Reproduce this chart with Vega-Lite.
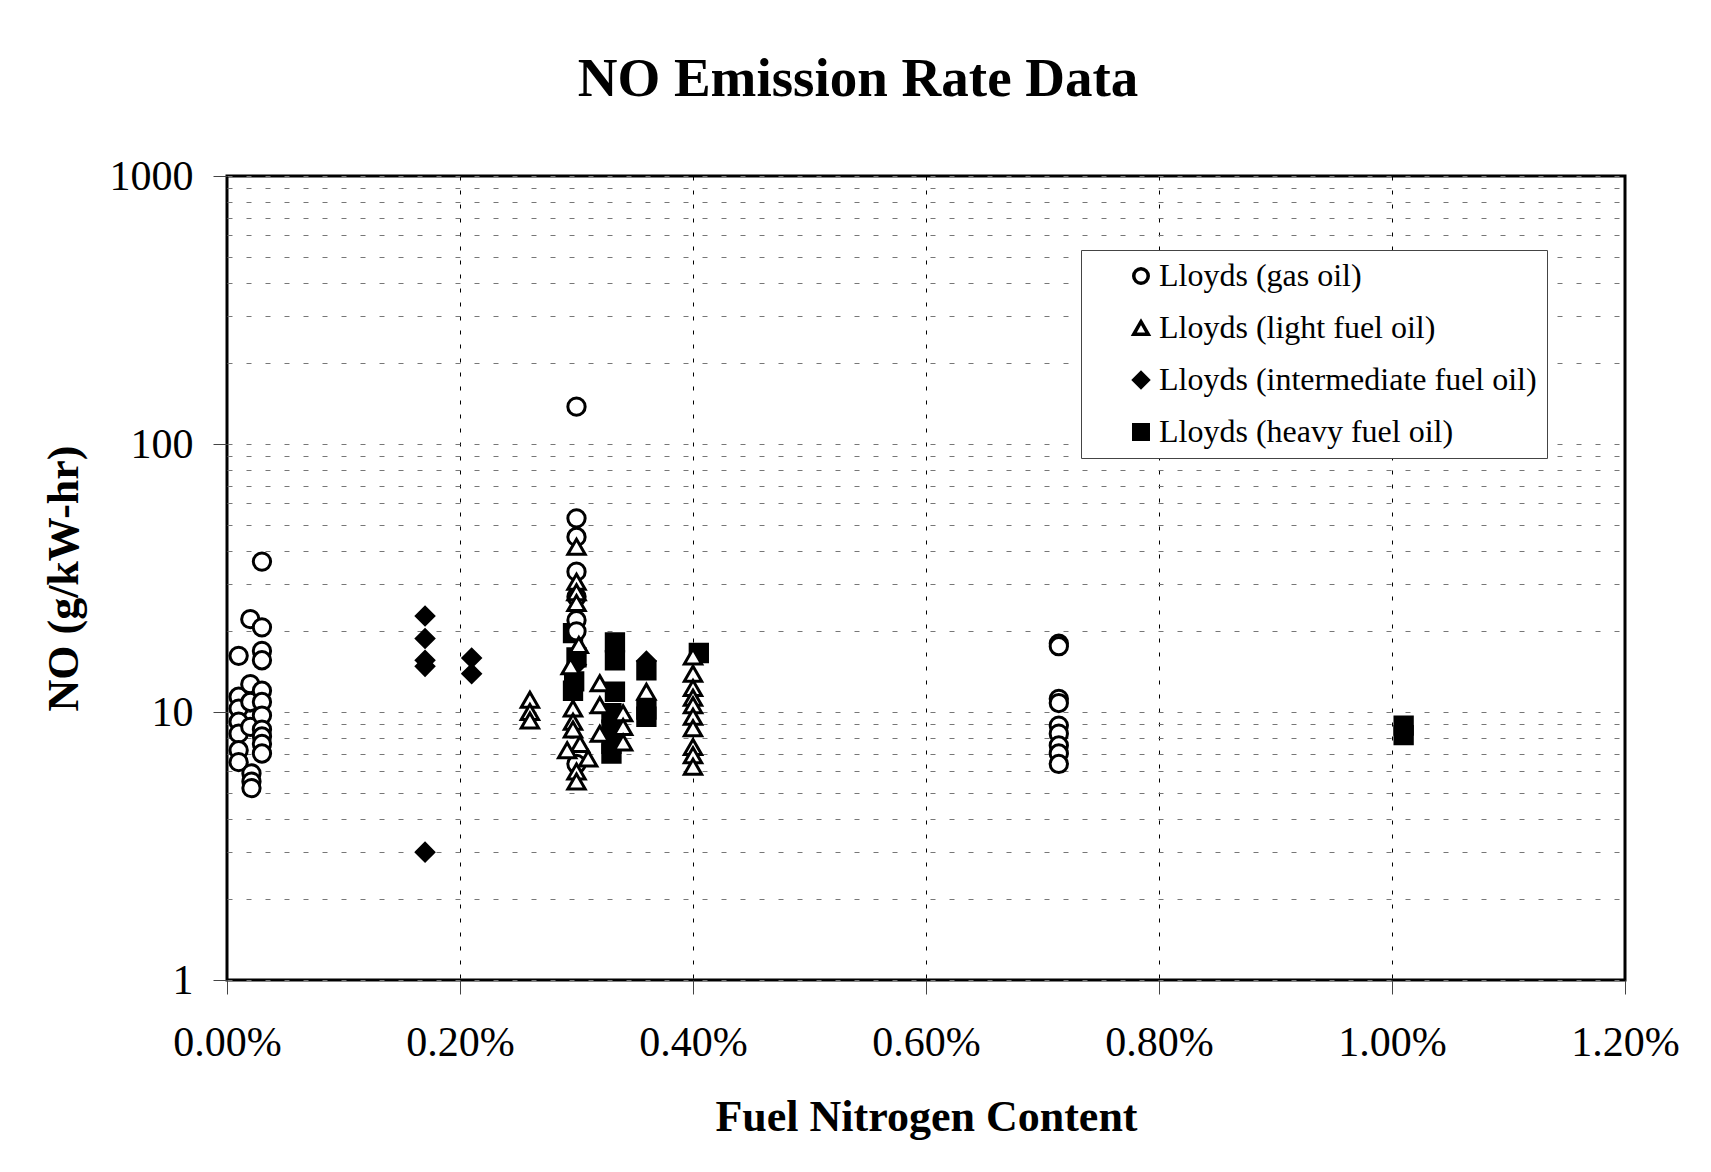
{
  "$schema": "https://vega.github.io/schema/vega-lite/v6.json",
  "width": 1398,
  "height": 804,
  "autosize": {"type": "none"},
  "padding": {"left": 227, "top": 176, "right": 86, "bottom": 192},
  "background": "white",
  "config": {"view": {"stroke": "#000", "strokeWidth": 3}, "font": "Liberation Serif"},
  "title": {"text": "NO Emission Rate Data", "font": "Liberation Serif", "fontSize": 55, "fontWeight": "bold", "color": "#000", "anchor": "middle", "frame": "group", "dx": -68, "baseline": "alphabetic", "offset": 4},
  "data": {"values": [
    {"series": "Lloyds (intermediate fuel oil)", "n": 0.0017, "no": 22.8},
    {"series": "Lloyds (intermediate fuel oil)", "n": 0.0017, "no": 18.8},
    {"series": "Lloyds (intermediate fuel oil)", "n": 0.0017, "no": 15.6},
    {"series": "Lloyds (intermediate fuel oil)", "n": 0.0017, "no": 14.8},
    {"series": "Lloyds (intermediate fuel oil)", "n": 0.0017, "no": 3.0},
    {"series": "Lloyds (intermediate fuel oil)", "n": 0.0021, "no": 15.9},
    {"series": "Lloyds (intermediate fuel oil)", "n": 0.0021, "no": 13.9},
    {"series": "Lloyds (intermediate fuel oil)", "n": 0.003, "no": 15.0},
    {"series": "Lloyds (intermediate fuel oil)", "n": 0.0036, "no": 15.5},
    {"series": "Lloyds (heavy fuel oil)", "n": 0.00297, "no": 19.7},
    {"series": "Lloyds (heavy fuel oil)", "n": 0.003, "no": 16.0},
    {"series": "Lloyds (heavy fuel oil)", "n": 0.00298, "no": 13.0},
    {"series": "Lloyds (heavy fuel oil)", "n": 0.00297, "no": 12.0},
    {"series": "Lloyds (heavy fuel oil)", "n": 0.00333, "no": 18.2},
    {"series": "Lloyds (heavy fuel oil)", "n": 0.00333, "no": 15.6},
    {"series": "Lloyds (heavy fuel oil)", "n": 0.00333, "no": 11.9},
    {"series": "Lloyds (heavy fuel oil)", "n": 0.0033, "no": 9.9},
    {"series": "Lloyds (heavy fuel oil)", "n": 0.0033, "no": 8.6},
    {"series": "Lloyds (heavy fuel oil)", "n": 0.0033, "no": 7.6},
    {"series": "Lloyds (heavy fuel oil)", "n": 0.0033, "no": 7.0},
    {"series": "Lloyds (heavy fuel oil)", "n": 0.0036, "no": 14.3},
    {"series": "Lloyds (heavy fuel oil)", "n": 0.0036, "no": 10.2},
    {"series": "Lloyds (heavy fuel oil)", "n": 0.0036, "no": 9.6},
    {"series": "Lloyds (heavy fuel oil)", "n": 0.00405, "no": 16.6},
    {"series": "Lloyds (heavy fuel oil)", "n": 0.0101, "no": 8.9},
    {"series": "Lloyds (heavy fuel oil)", "n": 0.0101, "no": 8.2},
    {"series": "Lloyds (gas oil)", "n": 0.0001, "no": 16.2},
    {"series": "Lloyds (gas oil)", "n": 0.0001, "no": 11.4},
    {"series": "Lloyds (gas oil)", "n": 0.0001, "no": 10.3},
    {"series": "Lloyds (gas oil)", "n": 0.0001, "no": 9.2},
    {"series": "Lloyds (gas oil)", "n": 0.0001, "no": 8.3},
    {"series": "Lloyds (gas oil)", "n": 0.0001, "no": 7.2},
    {"series": "Lloyds (gas oil)", "n": 0.0001, "no": 6.5},
    {"series": "Lloyds (gas oil)", "n": 0.0002, "no": 22.2},
    {"series": "Lloyds (gas oil)", "n": 0.0002, "no": 12.7},
    {"series": "Lloyds (gas oil)", "n": 0.0002, "no": 10.9},
    {"series": "Lloyds (gas oil)", "n": 0.0002, "no": 8.8},
    {"series": "Lloyds (gas oil)", "n": 0.00021, "no": 5.9},
    {"series": "Lloyds (gas oil)", "n": 0.00021, "no": 5.5},
    {"series": "Lloyds (gas oil)", "n": 0.00021, "no": 5.2},
    {"series": "Lloyds (gas oil)", "n": 0.0003, "no": 36.4},
    {"series": "Lloyds (gas oil)", "n": 0.0003, "no": 20.7},
    {"series": "Lloyds (gas oil)", "n": 0.0003, "no": 16.9},
    {"series": "Lloyds (gas oil)", "n": 0.0003, "no": 15.6},
    {"series": "Lloyds (gas oil)", "n": 0.0003, "no": 12.0},
    {"series": "Lloyds (gas oil)", "n": 0.0003, "no": 10.9},
    {"series": "Lloyds (gas oil)", "n": 0.0003, "no": 9.7},
    {"series": "Lloyds (gas oil)", "n": 0.0003, "no": 8.6},
    {"series": "Lloyds (gas oil)", "n": 0.0003, "no": 8.1},
    {"series": "Lloyds (gas oil)", "n": 0.0003, "no": 7.6},
    {"series": "Lloyds (gas oil)", "n": 0.0003, "no": 7.0},
    {"series": "Lloyds (gas oil)", "n": 0.003, "no": 137.8},
    {"series": "Lloyds (gas oil)", "n": 0.003, "no": 52.8},
    {"series": "Lloyds (gas oil)", "n": 0.003, "no": 45.0},
    {"series": "Lloyds (gas oil)", "n": 0.003, "no": 33.4},
    {"series": "Lloyds (gas oil)", "n": 0.003, "no": 26.9},
    {"series": "Lloyds (gas oil)", "n": 0.003, "no": 22.0},
    {"series": "Lloyds (gas oil)", "n": 0.003, "no": 20.0},
    {"series": "Lloyds (gas oil)", "n": 0.003, "no": 6.4},
    {"series": "Lloyds (gas oil)", "n": 0.00714, "no": 18.0},
    {"series": "Lloyds (gas oil)", "n": 0.00714, "no": 17.6},
    {"series": "Lloyds (gas oil)", "n": 0.00714, "no": 11.2},
    {"series": "Lloyds (gas oil)", "n": 0.00714, "no": 10.8},
    {"series": "Lloyds (gas oil)", "n": 0.00714, "no": 8.9},
    {"series": "Lloyds (gas oil)", "n": 0.00714, "no": 8.3},
    {"series": "Lloyds (gas oil)", "n": 0.00714, "no": 7.5},
    {"series": "Lloyds (gas oil)", "n": 0.00714, "no": 7.0},
    {"series": "Lloyds (gas oil)", "n": 0.00714, "no": 6.4},
    {"series": "Lloyds (light fuel oil)", "n": 0.0026, "no": 11.1},
    {"series": "Lloyds (light fuel oil)", "n": 0.0026, "no": 10.0},
    {"series": "Lloyds (light fuel oil)", "n": 0.0026, "no": 9.3},
    {"series": "Lloyds (light fuel oil)", "n": 0.003, "no": 41.4},
    {"series": "Lloyds (light fuel oil)", "n": 0.003, "no": 30.6},
    {"series": "Lloyds (light fuel oil)", "n": 0.003, "no": 28.0},
    {"series": "Lloyds (light fuel oil)", "n": 0.003, "no": 25.5},
    {"series": "Lloyds (light fuel oil)", "n": 0.00302, "no": 17.8},
    {"series": "Lloyds (light fuel oil)", "n": 0.00295, "no": 14.8},
    {"series": "Lloyds (light fuel oil)", "n": 0.00297, "no": 10.3},
    {"series": "Lloyds (light fuel oil)", "n": 0.00297, "no": 9.2},
    {"series": "Lloyds (light fuel oil)", "n": 0.00297, "no": 8.6},
    {"series": "Lloyds (light fuel oil)", "n": 0.00303, "no": 7.6},
    {"series": "Lloyds (light fuel oil)", "n": 0.00292, "no": 7.2},
    {"series": "Lloyds (light fuel oil)", "n": 0.003, "no": 6.0},
    {"series": "Lloyds (light fuel oil)", "n": 0.003, "no": 5.5},
    {"series": "Lloyds (light fuel oil)", "n": 0.0031, "no": 6.7},
    {"series": "Lloyds (light fuel oil)", "n": 0.0032, "no": 12.8},
    {"series": "Lloyds (light fuel oil)", "n": 0.0032, "no": 10.6},
    {"series": "Lloyds (light fuel oil)", "n": 0.0032, "no": 8.3},
    {"series": "Lloyds (light fuel oil)", "n": 0.0034, "no": 9.9},
    {"series": "Lloyds (light fuel oil)", "n": 0.0034, "no": 8.8},
    {"series": "Lloyds (light fuel oil)", "n": 0.0034, "no": 7.7},
    {"series": "Lloyds (light fuel oil)", "n": 0.0036, "no": 11.9},
    {"series": "Lloyds (light fuel oil)", "n": 0.004, "no": 16.1},
    {"series": "Lloyds (light fuel oil)", "n": 0.004, "no": 13.9},
    {"series": "Lloyds (light fuel oil)", "n": 0.004, "no": 12.3},
    {"series": "Lloyds (light fuel oil)", "n": 0.004, "no": 11.3},
    {"series": "Lloyds (light fuel oil)", "n": 0.004, "no": 10.6},
    {"series": "Lloyds (light fuel oil)", "n": 0.004, "no": 9.6},
    {"series": "Lloyds (light fuel oil)", "n": 0.004, "no": 8.7},
    {"series": "Lloyds (light fuel oil)", "n": 0.004, "no": 7.4},
    {"series": "Lloyds (light fuel oil)", "n": 0.004, "no": 6.9},
    {"series": "Lloyds (light fuel oil)", "n": 0.004, "no": 6.25}
  ]},
  "mark": {"type": "point", "filled": true, "strokeWidth": 3, "size": 300, "opacity": 1},
  "encoding": {
    "x": {
      "field": "n", "type": "quantitative",
      "scale": {"domain": [0, 0.012], "nice": false, "zero": false},
      "axis": {
        "values": [0, 0.002, 0.004, 0.006, 0.008, 0.01, 0.012],
        "format": ".2%",
        "grid": true, "gridDash": [4, 10], "gridColor": "#000", "gridWidth": 1, "gridOpacity": 1,
        "domain": false,
        "ticks": true, "tickSize": 14, "tickColor": "#444", "tickWidth": 1,
        "labelFont": "Liberation Serif", "labelFontSize": 42, "labelColor": "#000", "labelPadding": 28,
        "labelFlush": false, "labelOverlap": false,
        "title": "Fuel Nitrogen Content", "titleFont": "Liberation Serif", "titleFontSize": 44, "titleFontWeight": "bold", "titleColor": "#000",
        "titleBaseline": "alphabetic", "titleY": 150
      }
    },
    "y": {
      "field": "no", "type": "quantitative",
      "scale": {"type": "log", "domain": [1, 1000], "nice": false},
      "axis": {
        "values": [1, 2, 3, 4, 5, 6, 7, 8, 9, 10, 20, 30, 40, 50, 60, 70, 80, 90, 100, 200, 300, 400, 500, 600, 700, 800, 900, 1000],
        "format": "d",
        "labelExpr": "datum.value == 1 || datum.value == 10 || datum.value == 100 || datum.value == 1000 ? datum.label : ''",
        "grid": true, "gridDash": [5, 14], "gridColor": "#777", "gridWidth": 1, "gridOpacity": 1,
        "domain": false,
        "ticks": true, "tickSize": 14, "tickColor": "#444", "tickWidth": 1,
        "tickOpacity": {"condition": {"test": "datum.value == 1 || datum.value == 10 || datum.value == 100 || datum.value == 1000", "value": 1}, "value": 0},
        "labelFont": "Liberation Serif", "labelFontSize": 42, "labelColor": "#000", "labelPadding": 20,
        "labelFlush": false, "labelOverlap": false,
        "title": "NO (g/kW-hr)", "titleFont": "Liberation Serif", "titleFontSize": 44, "titleFontWeight": "bold", "titleColor": "#000",
        "titleAngle": 270, "titleBaseline": "alphabetic", "titleAlign": "center", "titleX": -150, "titleY": 402
      }
    },
    "shape": {
      "field": "series", "type": "nominal",
      "scale": {"domain": ["Lloyds (gas oil)", "Lloyds (light fuel oil)", "Lloyds (intermediate fuel oil)", "Lloyds (heavy fuel oil)"], "range": ["circle", "triangle-up", "diamond", "square"]},
      "legend": {"title": null, "orient": "none", "legendX": 854, "legendY": 74, "padding": 10, "strokeColor": "#444", "fillColor": "#fff", "labelFont": "Liberation Serif", "labelFontSize": 32, "labelColor": "#000", "rowPadding": 20, "symbolSize": 210, "symbolStrokeWidth": 3.5, "symbolOffset": 34, "labelOffset": 2, "labelLimit": 600, "encode": {"symbols": {"update": {"strokeWidth": {"value": 3.5}}}}}
    },
    "fill": {
      "field": "series", "type": "nominal",
      "scale": {"domain": ["Lloyds (gas oil)", "Lloyds (light fuel oil)", "Lloyds (intermediate fuel oil)", "Lloyds (heavy fuel oil)"], "range": ["#ffffff", "#ffffff", "#000000", "#000000"]},
      "legend": {"title": null, "orient": "none", "legendX": 854, "legendY": 74, "padding": 10, "strokeColor": "#444", "fillColor": "#fff", "labelFont": "Liberation Serif", "labelFontSize": 32, "labelColor": "#000", "rowPadding": 20, "symbolSize": 210, "symbolStrokeWidth": 3.5, "symbolOffset": 34, "labelOffset": 2, "labelLimit": 600, "encode": {"symbols": {"update": {"strokeWidth": {"value": 3.5}}}}}
    },
    "stroke": {
      "field": "series", "type": "nominal",
      "scale": {"domain": ["Lloyds (gas oil)", "Lloyds (light fuel oil)", "Lloyds (intermediate fuel oil)", "Lloyds (heavy fuel oil)"], "range": ["#000000", "#000000", "#000000", "#000000"]},
      "legend": {"title": null, "orient": "none", "legendX": 854, "legendY": 74, "padding": 10, "strokeColor": "#444", "fillColor": "#fff", "labelFont": "Liberation Serif", "labelFontSize": 32, "labelColor": "#000", "rowPadding": 20, "symbolSize": 210, "symbolStrokeWidth": 3.5, "symbolOffset": 34, "labelOffset": 2, "labelLimit": 600, "encode": {"symbols": {"update": {"strokeWidth": {"value": 3.5}}}}}
    }
  }
}
